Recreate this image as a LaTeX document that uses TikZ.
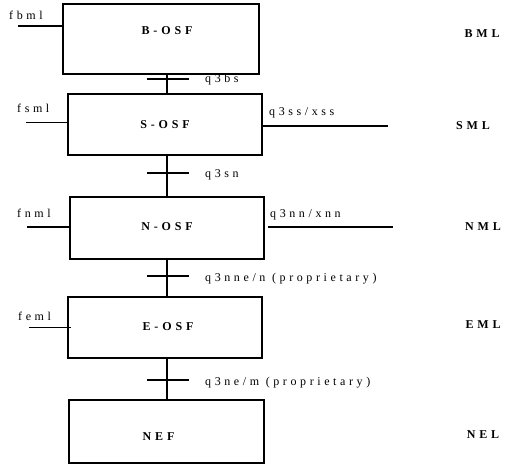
\documentclass[tikz,border=0pt]{standalone}
\usepackage{fontspec}
\setmainfont{Liberation Serif}
\newfontfamily\spaced[LetterSpace=30]{Liberation Serif}
\newfontfamily\bspaced[LetterSpace=32]{Liberation Serif}
\begin{document}
\begin{tikzpicture}[x=1pt,y=-1pt,
  osf/.style={draw,line width=2pt,minimum width=194pt,minimum height=61pt,inner sep=0pt},
  boxtext/.style={font=\bspaced\bfseries\fontsize{12}{13}\selectfont,inner sep=0pt},
  conn/.style={line width=2.6pt},
  tick/.style={line width=1.1pt},
  stub/.style={line width=1.3pt},
  lbl/.style={font=\spaced\fontsize{12}{13}\selectfont,inner sep=0pt},
  layer/.style={font=\bspaced\bfseries\fontsize{12}{13}\selectfont,inner sep=0pt}]
\useasboundingbox (0,0) rectangle (505,464);
% boxes
\node[osf,minimum width=196pt,minimum height=70pt] (b) at (161,39) {};
\node[osf] (s) at (165,124.5) {};
\node[osf,minimum height=62pt] (n) at (167,228) {};
\node[osf] (e) at (165,327.5) {};
\node[osf,minimum width=195pt,minimum height=63pt] (nef) at (166.5,431.5) {};
\node[boxtext] (bt) at ([xshift=6pt,yshift=8pt]b.center) {B-OSF};
\node[boxtext] (st) at (s.center) {S-OSF};
\node[boxtext] (nt) at ([yshift=1pt]n.center) {N-OSF};
\node[boxtext] (et) at ([xshift=3pt,yshift=1pt]e.center) {E-OSF};
\node[boxtext] (neft) at ([xshift=-8pt,yshift=-5pt]nef.center) {NEF};
\coordinate (cx) at (167,0);
% vertical connectors
\draw[conn] (b.south -| cx) -- (s.north -| cx);
\draw[conn] (s.south -| cx) -- (n.north -| cx);
\draw[conn] (n.south -| cx) -- (e.north -| cx);
\draw[conn] (e.south -| cx) -- (nef.north -| cx);
% ticks
\coordinate (t1) at (167,79);
\coordinate (t2) at (167,173);
\coordinate (t3) at (167,276);
\coordinate (t4) at (167,380);
\foreach \t in {t1,t2,t3,t4}{
  \draw[tick] ([xshift=-20pt]\t) -- ([xshift=22pt]\t);
}
\node[lbl,anchor=west] (l1) at (205,80) {q3bs};
\node[lbl,anchor=west] (l2) at (205,175) {q3sn};
\node[lbl,anchor=west] (l3) at (205,279) {q3nne/n (proprietary)};
\node[lbl,anchor=west] (l4) at (205,383) {q3ne/m (proprietary)};
% left stubs
\draw[stub] ([yshift=13pt]b.west) -- ++(-44,0) coordinate (fb);
\draw[stub] ([yshift=2pt]s.west) -- ++(-41,0) coordinate (fs);
\draw[stub] ([yshift=1pt]n.west) -- ++(-42,0) coordinate (fn);
\draw[stub] ([xshift=4pt]e.west) -- ++(-42,0) coordinate (fe);
\node[lbl,anchor=west] (lfb) at (9,15) {fbml};
\node[lbl,anchor=west] (lfs) at (17,108) {fsml};
\node[lbl,anchor=west] (lfn) at (17,213) {fnml};
\node[lbl,anchor=west] (lfe) at (18,316) {feml};
% right lines
\draw[stub] ([yshift=-1.5pt]s.east) -- (388,126) coordinate (rs);
\draw[stub] ([xshift=3pt,yshift=1pt]n.east) -- (393,227) coordinate (rn);
\node[lbl,anchor=west] (lrs) at (269,113) {q3ss/xss};
\node[lbl,anchor=west] (lrn) at (270,215) {q3nn/xnn};
% layer labels
\node[layer] (bml) at (482,34) {BML};
\node[layer] (sml) at (473,126) {SML};
\node[layer] (nml) at (483,227) {NML};
\node[layer] (eml) at (483,325) {EML};
\node[layer] (nel) at (483,435) {NEL};
\end{tikzpicture}
\end{document}
